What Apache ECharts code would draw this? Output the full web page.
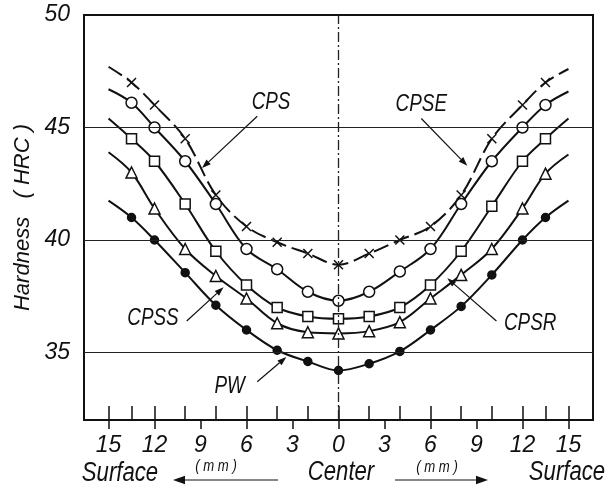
<!DOCTYPE html>
<html>
<head>
<meta charset="utf-8">
<script src="https://cdn.jsdelivr.net/npm/echarts@6.0.0/dist/echarts.min.js"></script>
<style>
  html, body { margin: 0; padding: 0; background: #fff; }
  #main { width: 611px; height: 493px; }
</style>
</head>
<body>
<div id="main"></div>
<script>
// positions across the bar (mm), negative = left half
var xPos = [-15, -13.5, -12, -10, -8, -6, -4, -2, 0, 2, 4, 6, 8, 10, 12, 13.5, 15];
// first and last values are the curve ends (no marker)
var cps  = [47.7, 47.0, 46.0, 44.5, 42.0, 40.6, 39.9, 39.4, 38.9, 39.4, 40.0, 40.6, 42.0, 44.5, 46.0, 47.0, 47.6];
var cpse = [46.7, 46.1, 45.0, 43.5, 41.6, 39.6, 38.7, 37.7, 37.3, 37.7, 38.6, 39.6, 41.6, 43.5, 45.0, 46.0, 46.6];
var cpsr = [45.4, 44.5, 43.5, 41.6, 39.5, 38.0, 37.0, 36.6, 36.5, 36.6, 37.0, 38.0, 39.5, 41.5, 43.5, 44.5, 45.4];
var cpss = [43.9, 43.0, 41.4, 39.6, 38.4, 37.4, 36.3, 35.9, 35.85, 35.95, 36.35, 37.4, 38.45, 39.6, 41.4, 42.95, 43.8];
var pw   = [41.75, 41.0, 40.0, 38.55, 37.1, 36.0, 35.1, 34.6, 34.2, 34.5, 35.05, 36.0, 37.05, 38.45, 40.0, 41.0, 41.75];

var xLabelTicks = [-15, -12, -9, -6, -3, 0, 3, 6, 9, 12, 15];
var xInnerTicks = [-15, -13.5, -12, -10, -8, -6, -4, -2, 0, 2, 4, 6, 8, 10, 12, 13.5, 15];
var yLabels = [35, 40, 45, 50];
var hLines = [35, 40, 45];

// curve labels: text position and arrow (from -> to), data coords
var notes = [
  { text: 'CPS',  at: [-4.4, 46.1], from: [-5.3, 45.5], to: [-8.9, 43.2] },
  { text: 'CPSE', at: [5.4, 46.0],  from: [5.4, 45.4],  to: [8.4, 43.3] },
  { text: 'CPSS', at: [-12.1, 36.5], from: [-9.9, 36.4], to: [-7.5, 37.9] },
  { text: 'PW',   at: [-7.1, 33.5], from: [-5.3, 33.7], to: [-3.4, 34.8] },
  { text: 'CPSR', at: [12.5, 36.3], from: [10.3, 36.4], to: [7.1, 38.3] }
];

var FONT = "'Liberation Sans Narrow', 'Liberation Sans', sans-serif";
var INK = '#111';

function pts(vals) {
  return xPos.map(function (x, i) {
    var d = { value: [x, vals[i]] };
    if (i === 0 || i === xPos.length - 1) d.symbol = 'none';
    return d;
  });
}

function curve(name, vals, symbol, size, fill, dashed) {
  return {
    name: name,
    type: 'line',
    xAxisIndex: 0,
    data: pts(vals),
    smooth: 0.35,
    symbol: symbol,
    symbolSize: size,
    showAllSymbol: true,
    z: 3,
    lineStyle: { color: INK, width: 2, type: dashed ? [16, 6] : 'solid' },
    itemStyle: { color: fill, borderColor: INK, borderWidth: 1.5 }
  };
}

var chart = echarts.init(document.getElementById('main'));

var option = {
  animation: false,
  backgroundColor: '#fff',
  grid: {
    left: 84, right: 18, top: 15, bottom: 73,
    show: true, borderColor: INK, borderWidth: 2
  },
  xAxis: [
    {
      type: 'value', min: -16.6, max: 16.6, position: 'bottom',
      axisLine: { show: false },
      splitLine: { show: false },
      axisTick: { show: true, inside: false, length: 9, customValues: xLabelTicks, lineStyle: { color: INK, width: 1.5 } },
      axisLabel: {
        customValues: xLabelTicks, margin: 14,
        formatter: function (v) { return String(Math.abs(v)); },
        color: INK, fontSize: 23, fontStyle: 'italic', fontFamily: FONT
      }
    },
    {
      type: 'value', min: -16.6, max: 16.6, position: 'bottom', offset: 0,
      axisLine: { show: false },
      splitLine: { show: false },
      axisLabel: { show: false },
      axisTick: { show: true, inside: true, length: 14, customValues: xInnerTicks, lineStyle: { color: INK, width: 1.5 } }
    }
  ],
  yAxis: {
    type: 'value', min: 32, max: 50,
    axisLine: { show: false },
    axisTick: { show: false },
    splitLine: { show: false },
    axisLabel: {
      customValues: yLabels, margin: 14,
      color: INK, fontSize: 23, fontStyle: 'italic', fontFamily: FONT
    },
    name: 'Hardness   ( HRC )',
    nameLocation: 'middle',
    nameGap: 44,
    nameTextStyle: { color: INK, fontSize: 22, fontStyle: 'italic', fontFamily: FONT }
  },
  series: [
    {
      type: 'line', data: [], z: 1, silent: true,
      markLine: {
        silent: true, symbol: 'none', label: { show: false },
        lineStyle: { color: '#222', width: 1, type: 'solid' },
        data: hLines.map(function (v) { return { yAxis: v }; }).concat([
          { xAxis: 0, lineStyle: { color: '#222', width: 1.3, type: [10, 3, 2, 3] } }
        ])
      }
    },
    curve('CPS', cps, 'path://M0,0L10,10M10,0L0,10', 9, INK, true),
    curve('CPSE', cpse, 'circle', 11, '#fff', false),
    curve('CPSR', cpsr, 'rect', 10, '#fff', false),
    curve('CPSS', cpss, 'triangle', 11, '#fff', false),
    curve('PW', pw, 'circle', 8, INK, false)
  ]
};

chart.setOption(option);

// annotations and the axis captions
function px(p) { return chart.convertToPixel({ gridIndex: 0 }, p); }

function arrow(a, b, head) {
  var dx = b[0] - a[0], dy = b[1] - a[1];
  var len = Math.sqrt(dx * dx + dy * dy);
  var ux = dx / len, uy = dy / len;
  var bx = b[0] - ux * head, by = b[1] - uy * head;
  var w = head * 0.35;
  return [
    { type: 'line', shape: { x1: a[0], y1: a[1], x2: bx, y2: by }, style: { stroke: INK, lineWidth: 1.2 } },
    { type: 'polygon', shape: { points: [[b[0], b[1]], [bx - uy * w, by + ux * w], [bx + uy * w, by - ux * w]] }, style: { fill: INK } }
  ];
}

// narrow lettering: squeeze the text horizontally
function label(text, p, size) {
  return {
    type: 'text', x: p[0], y: p[1], scaleX: 0.82,
    style: {
      text: text, fill: INK, align: 'center', verticalAlign: 'middle',
      font: 'italic ' + size + 'px ' + FONT
    }
  };
}

var g = [];
notes.forEach(function (n) {
  g.push(label(n.text, px(n.at), 23));
  g = g.concat(arrow(px(n.from), px(n.to), 9));
});

// bottom captions
g.push(label('Surface', [120, 473], 27));
g.push(label('( m m )', [216, 467], 16));
g = g.concat(arrow([278, 480], [173, 480], 12));
g.push(label('Center', [341, 472], 27));
g.push(label('( m m )', [437, 468], 16));
g = g.concat(arrow([395, 480], [488, 480], 12));
g.push(label('Surface', [567, 472], 27));

chart.setOption({ graphic: g });
</script>
</body>
</html>
